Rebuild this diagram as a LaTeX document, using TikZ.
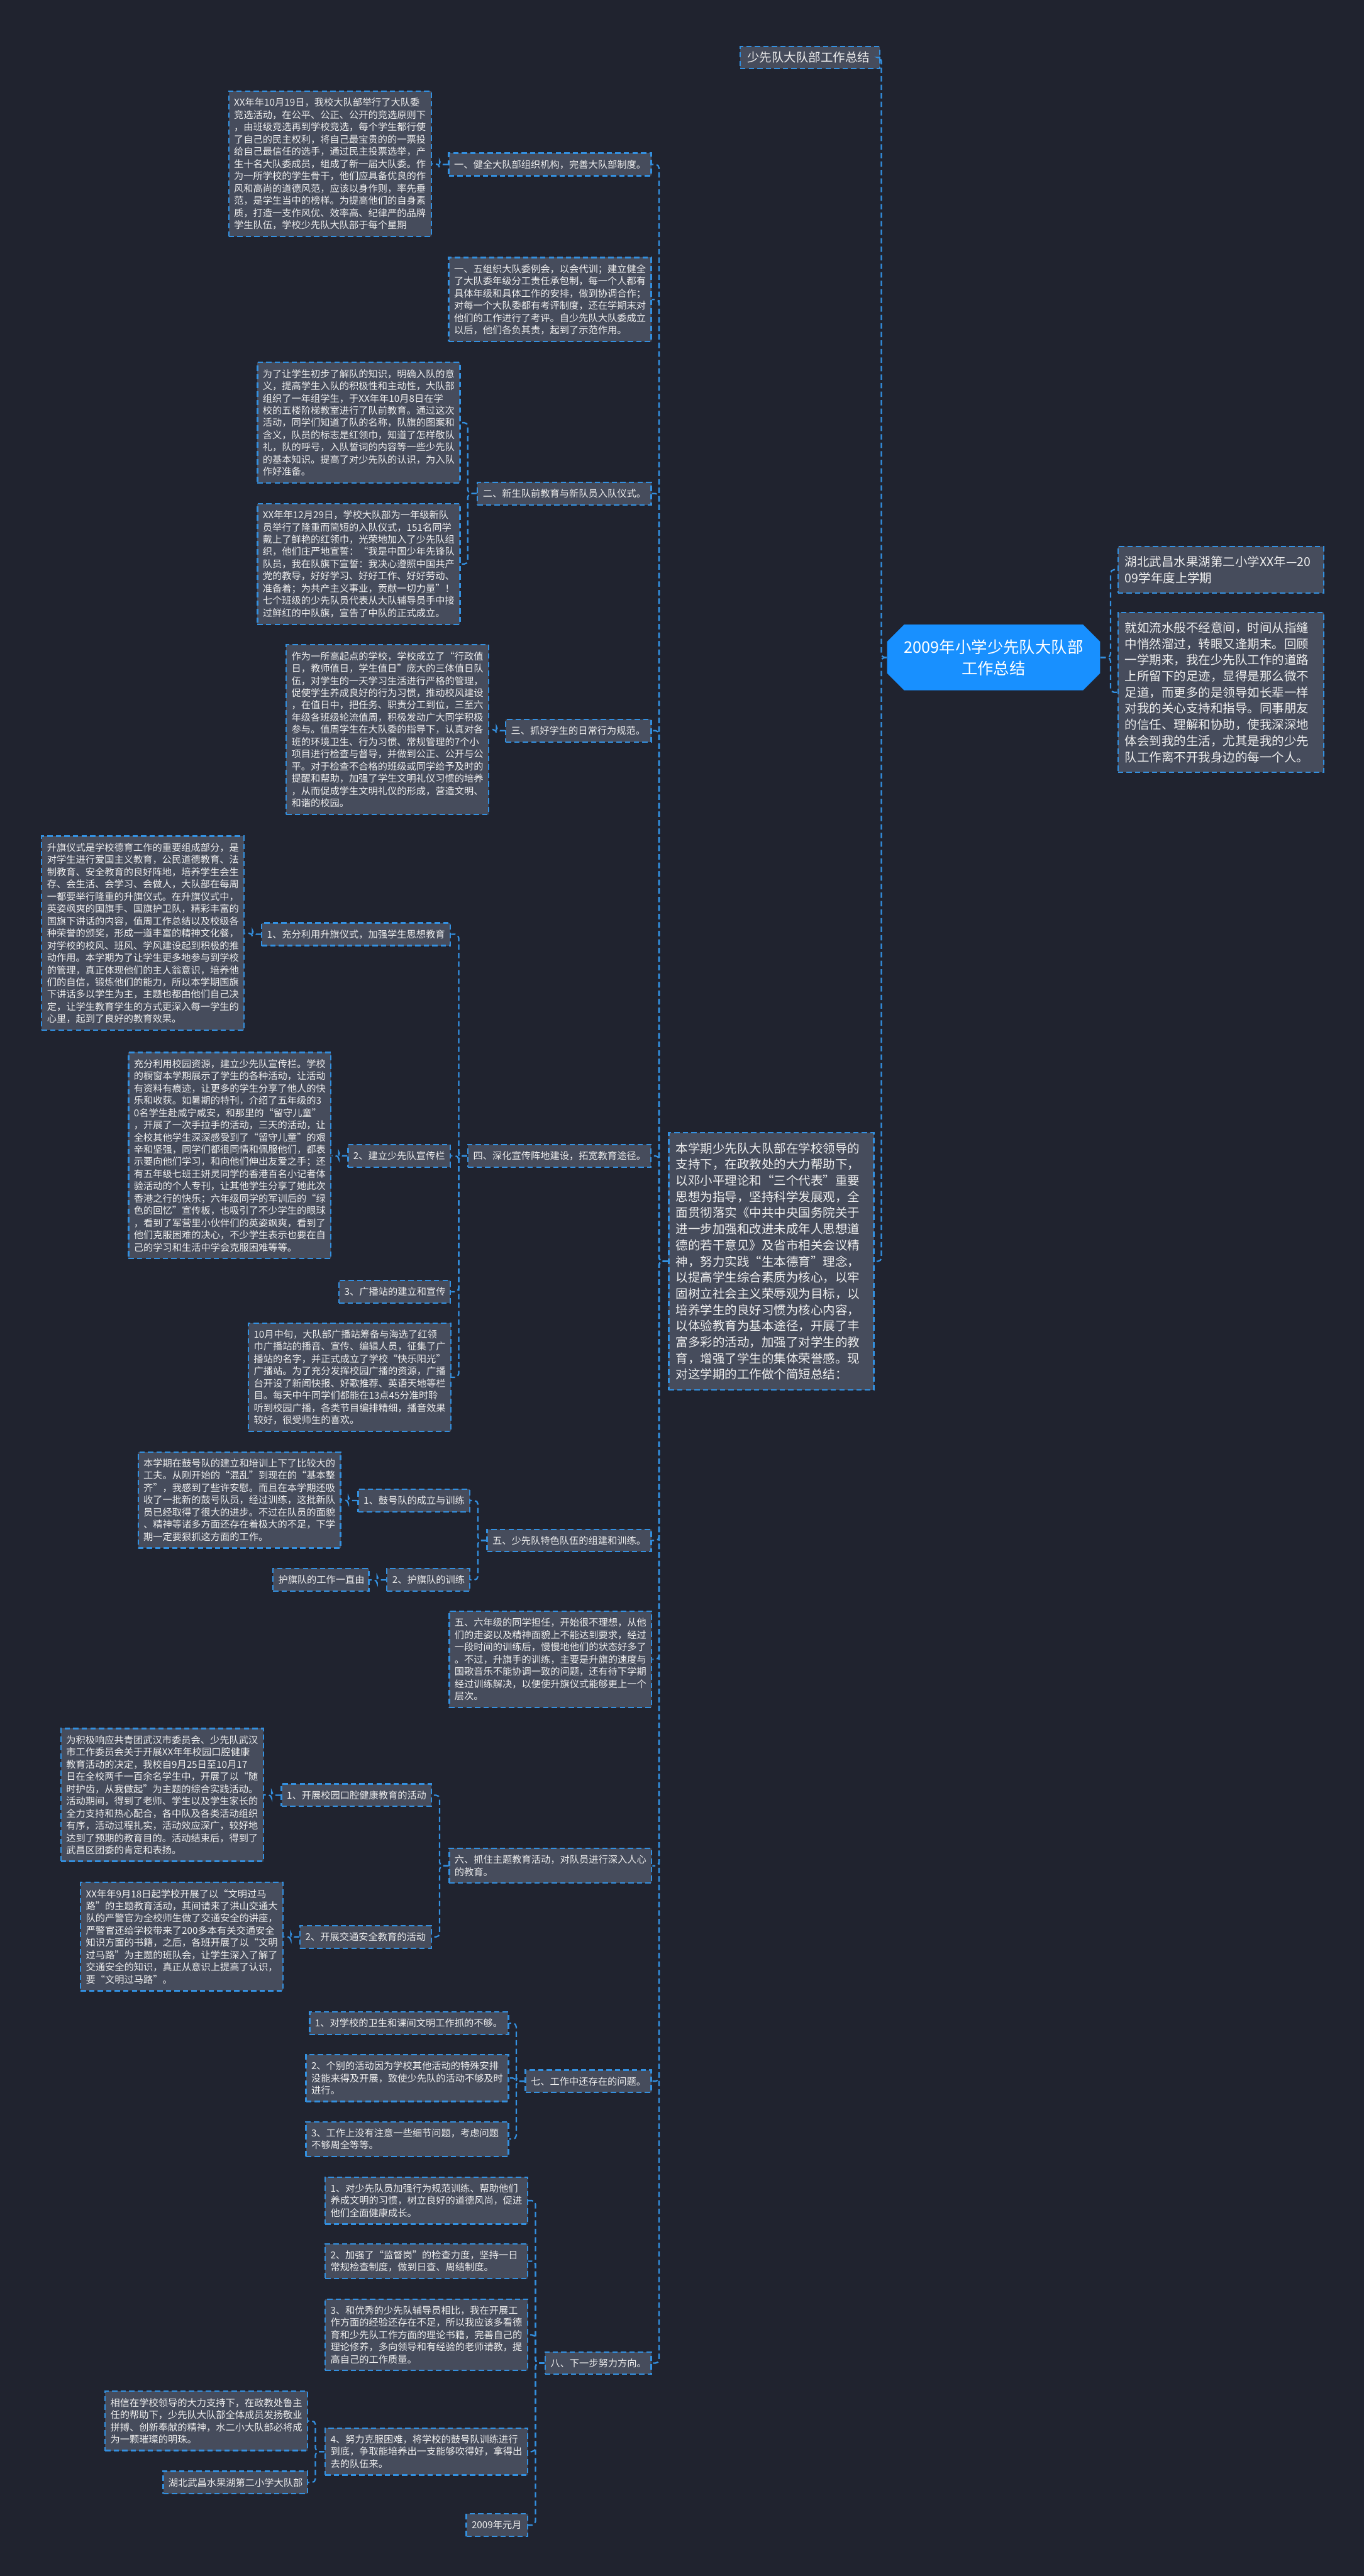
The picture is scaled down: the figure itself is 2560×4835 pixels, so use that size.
\documentclass[tikz,border=0pt]{standalone}
\usepackage{fontspec}
\setmainfont{Noto Sans CJK SC}
\usetikzlibrary{shapes.misc}
\definecolor{bgc}{HTML}{20232F}
\definecolor{boxc}{HTML}{464C5C}
\definecolor{linec}{HTML}{3390E0}
\definecolor{txtc}{HTML}{EEEEEE}
\definecolor{rootc}{HTML}{1890FF}
\newcommand\fsmall{\fontsize{5.4pt}{6.9pt}\selectfont}
\newcommand\fbig{\fontsize{6.9pt}{9.1pt}\selectfont}
\newcommand\froot{\fontsize{9pt}{12pt}\selectfont}
\begin{document}
\begin{tikzpicture}[x=0.3pt,y=-0.3pt,
  box/.style={draw=linec, line width=0.8pt, dash pattern=on 3pt off 1.8pt, fill=boxc, text=txtc,
    align=left, anchor=north west, inner xsep=3pt, inner ysep=3.8pt, font=\fsmall},
  bigbox/.style={box, inner xsep=4pt, inner ysep=5.4pt, font=\fbig},
  rootbox/.style={shape=chamfered rectangle, chamfered rectangle xsep=6pt, fill=rootc, text=white,
    font=\froot, align=center, minimum width=120pt, minimum height=37pt, inner sep=3pt},
  conn/.style={draw=linec, line width=0.8pt, dash pattern=on 3pt off 1.8pt, rounded corners=2pt}]
\useasboundingbox (0,0) rectangle (2560,4835);
\fill[bgc] (0,0) rectangle (2560,4835);

% root
\node[rootbox] (R) at (1865,1234) {2009年小学少先队大队部\\工作总结};
\node[bigbox, text width=70.6pt, inner ysep=3pt] (T) at (1388,86) {少先队大队部工作总结};
\node[bigbox, text width=107.8pt] (P1) at (2097,1024) {湖北武昌水果湖第二小学XX年—20\\09学年度上学期};
\node[bigbox, text width=107.8pt] (P2) at (2097,1148) {就如流水般不经意间，时间从指缝\\中悄然溜过，转眼又逢期末。回顾\\一学期来，我在少先队工作的道路\\上所留下的足迹，显得是那么微不\\足道，而更多的是领导如长辈一样\\对我的关心支持和指导。同事朋友\\的信任、理解和协助，使我深深地\\体会到我的生活，尤其是我的少先\\队工作离不开我身边的每一个人。};
\node[bigbox, text width=107.5pt] (B) at (1254,2125) {本学期少先队大队部在学校领导的\\支持下，在政教处的大力帮助下，\\以邓小平理论和“三个代表”重要\\思想为指导，坚持科学发展观，全\\面贯彻落实《中共中央国务院关于\\进一步加强和改进未成年人思想道\\德的若干意见》及省市相关会议精\\神，努力实践“生本德育”理念，\\以提高学生综合素质为核心，以牢\\固树立社会主义荣辱观为目标，以\\培养学生的良好习惯为核心内容，\\以体验教育为基本途径，开展了丰\\富多彩的活动，加强了对学生的教\\育，增强了学生的集体荣誉感。现\\对这学期的工作做个简短总结：};

% section one
\node[box, text width=108pt] (S1) at (841,286) {一、健全大队部组织机构，完善大队部制度。};
\node[box, text width=108pt] (A) at (428,170) {XX年年10月19日，我校大队部举行了大队委\\竞选活动，在公平、公正、公开的竞选原则下\\，由班级竞选再到学校竞选，每个学生都行使\\了自己的民主权利，将自己最宝贵的的一票投\\给自己最信任的选手，通过民主投票选举，产\\生十名大队委成员，组成了新一届大队委。作\\为一所学校的学生骨干，他们应具备优良的作\\风和高尚的道德风范，应该以身作则，率先垂\\范，是学生当中的榜样。为提高他们的自身素\\质，打造一支作风优、效率高、纪律严的品牌\\学生队伍，学校少先队大队部于每个星期};
\node[box, text width=108pt] (B1) at (841,482) {一、五组织大队委例会，以会代训；建立健全\\了大队委年级分工责任承包制，每一个人都有\\具体年级和具体工作的安排，做到协调合作；\\对每一个大队委都有考评制度，还在学期末对\\他们的工作进行了考评。自少先队大队委成立\\以后，他们各负其责，起到了示范作用。};

% section two
\node[box, text width=91.8pt] (S2) at (895,904) {二、新生队前教育与新队员入队仪式。};
\node[box, text width=108pt] (C) at (482,679) {为了让学生初步了解队的知识，明确入队的意\\义，提高学生入队的积极性和主动性，大队部\\组织了一年组学生，于XX年年10月8日在学\\校的五楼阶梯教室进行了队前教育。通过这次\\活动，同学们知道了队的名称，队旗的图案和\\含义，队员的标志是红领巾，知道了怎样敬队\\礼，队的呼号，入队誓词的内容等一些少先队\\的基本知识。提高了对少先队的认识，为入队\\作好准备。};
\node[box, text width=108pt] (D) at (482,944) {XX年年12月29日，学校大队部为一年级新队\\员举行了隆重而简短的入队仪式，151名同学\\戴上了鲜艳的红领巾，光荣地加入了少先队组\\织，他们庄严地宣誓：“我是中国少年先锋队\\队员，我在队旗下宣誓：我决心遵照中国共产\\党的教导，好好学习、好好工作、好好劳动、\\准备着；为共产主义事业，贡献一切力量”！\\七个班级的少先队员代表从大队辅导员手中接\\过鲜红的中队旗，宣告了中队的正式成立。};

% section three
\node[box, text width=75.9pt] (S3) at (948,1349) {三、抓好学生的日常行为规范。};
\node[box, text width=108pt] (E) at (536,1209) {作为一所高起点的学校，学校成立了“行政值\\日，教师值日，学生值日”庞大的三体值日队\\伍，对学生的一天学习生活进行严格的管理，\\促使学生养成良好的行为习惯，推动校风建设\\，在值日中，把任务、职责分工到位，三至六\\年级各班级轮流值周，积极发动广大同学积极\\参与。值周学生在大队委的指导下，认真对各\\班的环境卫生、行为习惯、常规管理的7个小\\项目进行检查与督导，并做到公正、公开与公\\平。对于检查不合格的班级或同学给予及时的\\提醒和帮助，加强了学生文明礼仪习惯的培养\\，从而促成学生文明礼仪的形成，营造文明、\\和谐的校园。};

% section four
\node[box, text width=96.9pt] (S4) at (877,2147) {四、深化宣传阵地建设，拓宽教育途径。};
\node[box, text width=100.2pt] (S4a) at (490,1731) {1、充分利用升旗仪式，加强学生思想教育};
\node[box, text width=108pt] (F) at (77,1568) {升旗仪式是学校德育工作的重要组成部分，是\\对学生进行爱国主义教育，公民道德教育、法\\制教育、安全教育的良好阵地，培养学生会生\\存、会生活、会学习、会做人，大队部在每周\\一都要举行隆重的升旗仪式。在升旗仪式中，\\英姿飒爽的国旗手、国旗护卫队，精彩丰富的\\国旗下讲话的内容，值周工作总结以及校级各\\种荣誉的颁奖，形成一道丰富的精神文化餐，\\对学校的校风、班风、学风建设起到积极的推\\动作用。本学期为了让学生更多地参与到学校\\的管理，真正体现他们的主人翁意识，培养他\\们的自信，锻炼他们的能力，所以本学期国旗\\下讲话多以学生为主，主题也都由他们自己决\\定，让学生教育学生的方式更深入每一学生的\\心里，起到了良好的教育效果。};
\node[box, text width=51.6pt] (S4b) at (652,2147) {2、建立少先队宣传栏};
\node[box, text width=108pt] (G) at (240,1974) {充分利用校园资源，建立少先队宣传栏。学校\\的橱窗本学期展示了学生的各种活动，让活动\\有资料有痕迹，让更多的学生分享了他人的快\\乐和收获。如暑期的特刊，介绍了五年级的3\\0名学生赴咸宁咸安，和那里的“留守儿童”\\，开展了一次手拉手的活动，三天的活动，让\\全校其他学生深深感受到了“留守儿童”的艰\\辛和坚强，同学们都很同情和佩服他们，都表\\示要向他们学习，和向他们伸出友爱之手；还\\有五年级七班王妍灵同学的香港百名小记者体\\验活动的个人专刊，让其他学生分享了她此次\\香港之行的快乐；六年级同学的军训后的“绿\\色的回忆”宣传板，也吸引了不少学生的眼球\\，看到了军营里小伙伴们的英姿飒爽，看到了\\他们克服困难的决心，不少学生表示也要在自\\己的学习和生活中学会克服困难等等。};
\node[box, text width=56.7pt] (S4c) at (635,2402) {3、广播站的建立和宣传};
\node[box, text width=108pt] (H) at (465,2482) {10月中旬，大队部广播站筹备与海选了红领\\巾广播站的播音、宣传、编辑人员，征集了广\\播站的名字，并正式成立了学校“快乐阳光”\\广播站。为了充分发挥校园广播的资源，广播\\台开设了新闻快报、好歌推荐、英语天地等栏\\目。每天中午同学们都能在13点45分准时聆\\听到校园广播，各类节目编排精细，播音效果\\较好，很受师生的喜欢。};

% section five
\node[box, text width=86.4pt] (S5) at (913,2869) {五、少先队特色队伍的组建和训练。};
\node[box, text width=56.7pt] (S5a) at (671,2794) {1、鼓号队的成立与训练};
\node[box, text width=108pt] (I) at (258,2724) {本学期在鼓号队的建立和培训上下了比较大的\\工夫。从刚开始的“混乱”到现在的“基本整\\齐”，我感到了些许安慰。而且在本学期还吸\\收了一批新的鼓号队员，经过训练，这批新队\\员已经取得了很大的进步。不过在队员的面貌\\、精神等诸多方面还存在着极大的不足，下学\\期一定要狠抓这方面的工作。};
\node[box, text width=40.5pt] (S5b) at (725,2943) {2、护旗队的训练};
\node[box, text width=48pt] (S5c) at (511,2943) {护旗队的工作一直由};
\node[box, text width=108pt] (J) at (842,3023) {五、六年级的同学担任，开始很不理想，从他\\们的走姿以及精神面貌上不能达到要求，经过\\一段时间的训练后，慢慢地他们的状态好多了\\。不过，升旗手的训练，主要是升旗的速度与\\国歌音乐不能协调一致的问题，还有待下学期\\经过训练解决，以便使升旗仪式能够更上一个\\层次。};

% section six
\node[box, text width=108pt] (S6) at (842,3468) {六、抓住主题教育活动，对队员进行深入人心\\的教育。};
\node[box, text width=78.3pt] (S6a) at (527,3347) {1、开展校园口腔健康教育的活动};
\node[box, text width=108pt] (K) at (113,3243) {为积极响应共青团武汉市委员会、少先队武汉\\市工作委员会关于开展XX年年校园口腔健康\\教育活动的决定，我校自9月25日至10月17\\日在全校两千一百余名学生中，开展了以“随\\时护齿，从我做起”为主题的综合实践活动。\\活动期间，得到了老师、学生以及学生家长的\\全力支持和热心配合，各中队及各类活动组织\\有序，活动过程扎实，活动效应深广，较好地\\达到了预期的教育目的。活动结束后，得到了\\武昌区团委的肯定和表扬。};
\node[box, text width=67.8pt] (S6b) at (562,3613) {2、开展交通安全教育的活动};
\node[box, text width=108pt] (L) at (150,3532) {XX年年9月18日起学校开展了以“文明过马\\路”的主题教育活动，其间请来了洪山交通大\\队的严警官为全校师生做了交通安全的讲座，\\严警官还给学校带来了200多本有关交通安全\\知识方面的书籍，之后，各班开展了以“文明\\过马路”为主题的班队会，让学生深入了解了\\交通安全的知识，真正从意识上提高了认识，\\要“文明过马路”。};

% section seven
\node[box, text width=64.8pt] (S7) at (985,3884) {七、工作中还存在的问题。};
\node[box, text width=105.9pt] (S7a) at (580,3775) {1、对学校的卫生和课间文明工作抓的不够。};
\node[box, text width=108pt] (S7b) at (573,3855) {2、个别的活动因为学校其他活动的特殊安排\\没能来得及开展，致使少先队的活动不够及时\\进行。};
\node[box, text width=108pt] (S7c) at (573,3981) {3、工作上没有注意一些细节问题，考虑问题\\不够周全等等。};

% section eight
\node[box, text width=53.7pt] (S8) at (1022,4413) {八、下一步努力方向。};
\node[box, text width=108pt] (S8a) at (609,4085) {1、对少先队员加强行为规范训练、帮助他们\\养成文明的习惯，树立良好的道德风尚，促进\\他们全面健康成长。};
\node[box, text width=108pt] (S8b) at (609,4210) {2、加强了“监督岗”的检查力度，坚持一日\\常规检查制度，做到日查、周结制度。};
\node[box, text width=108pt] (S8c) at (609,4314) {3、和优秀的少先队辅导员相比，我在开展工\\作方面的经验还存在不足，所以我应该多看德\\育和少先队工作方面的理论书籍，完善自己的\\理论修养，多向领导和有经验的老师请教，提\\高自己的工作质量。};
\node[box, text width=108pt] (S8d) at (609,4556) {4、努力克服困难，将学校的鼓号队训练进行\\到底，争取能培养出一支能够吹得好，拿得出\\去的队伍来。};
\node[box, text width=108pt] (M) at (196,4487) {相信在学校领导的大力支持下，在政教处鲁主\\任的帮助下，少先队大队部全体成员发扬敬业\\拼搏、创新奉献的精神，水二小大队部必将成\\为一颗璀璨的明珠。};
\node[box, text width=75.3pt] (Sig) at (305,4637) {湖北武昌水果湖第二小学大队部};
\node[box, text width=28.5pt] (Dt) at (874,4717) {2009年元月};

% connectors
\foreach \c in {T,B} \draw[conn] (R.west) -- ++(-10,0) |- (\c.east);
\foreach \c in {P1,P2} \draw[conn] (R.east) -- ++(19,0) |- (\c.west);
\foreach \c in {S1,B1,S2,S3,S4,S5,J,S6,S7,S8} \draw[conn] (B.west) -- ++(-17,0) |- (\c.east);
\draw[conn] (S1.west) -- ++(-16,0) |- (A.east);
\foreach \c in {C,D} \draw[conn] (S2.west) -- ++(-17,0) |- (\c.east);
\draw[conn] (S3.west) -- ++(-16,0) |- (E.east);
\foreach \c in {S4a,S4b,S4c,H} \draw[conn] (S4.west) -- ++(-16,0) |- (\c.east);
\draw[conn] (S4a.west) -- ++(-16,0) |- (F.east);
\draw[conn] (S4b.west) -- ++(-16,0) |- (G.east);
\foreach \c in {S5a,S5b} \draw[conn] (S5.west) -- ++(-16,0) |- (\c.east);
\draw[conn] (S5a.west) -- ++(-17,0) |- (I.east);
\draw[conn] (S5b.west) -- ++(-17,0) |- (S5c.east);
\foreach \c in {S6a,S6b} \draw[conn] (S6.west) -- ++(-17,0) |- (\c.east);
\draw[conn] (S6a.west) -- ++(-17,0) |- (K.east);
\draw[conn] (S6b.west) -- ++(-16,0) |- (L.east);
\foreach \c in {S7a,S7b,S7c} \draw[conn] (S7.west) -- ++(-16,0) |- (\c.east);
\foreach \c in {S8a,S8b,S8c,S8d,Dt} \draw[conn] (S8.west) -- ++(-17,0) |- (\c.east);
\foreach \c in {M,Sig} \draw[conn] (S8d.west) -- ++(-17,0) |- (\c.east);
\end{tikzpicture}
\end{document}
